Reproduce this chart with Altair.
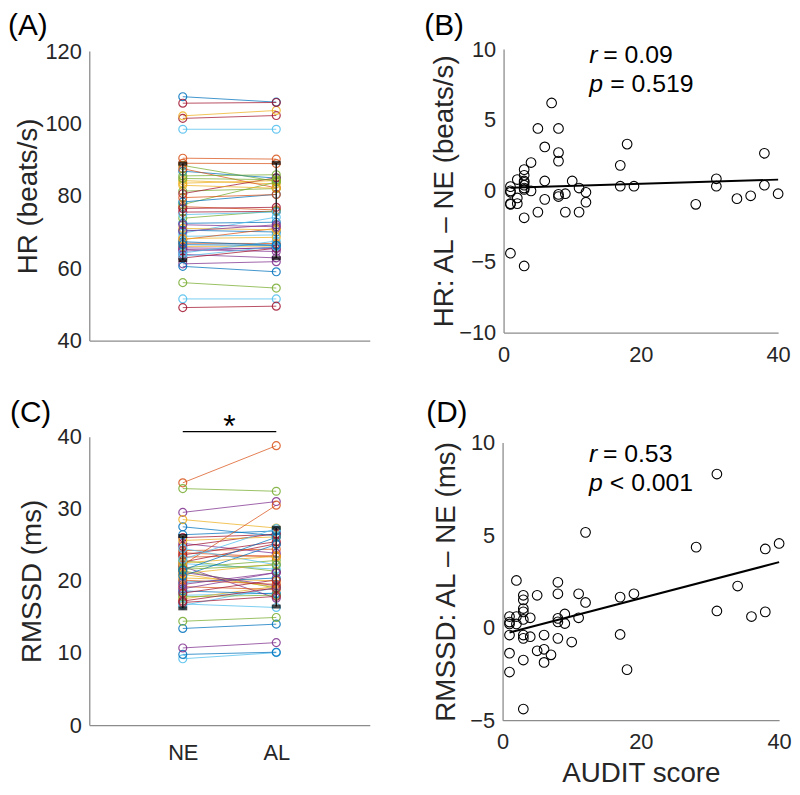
import altair as alt
import pandas as pd

# ---------------- data ----------------
audit = [1, 1, 1, 1, 1, 1, 2, 2, 2, 3, 3, 3, 3, 3, 3, 3, 3, 3, 4, 4, 5, 5, 6, 6, 6,
         7, 8, 8, 8, 8, 8, 9, 9, 10, 11, 11, 12, 12, 17, 17, 18, 19, 28, 31, 31, 34,
         36, 38, 38, 40]
hr_diff = [0.3, -0.1, -0.9, -0.95, -4.4, 0.0, 0.8, -0.5, -0.9, 1.5, 1.1, 0.7, 0.4, 0.2,
           -1.9, -5.3, 0.1, 0.6, 2.0, 0.0, 4.4, -1.5, 3.1, 0.7, -0.6, 6.2, 4.4, 2.7, 2.1,
           -0.25, -0.4, -0.2, -1.5, 0.7, 0.2, -1.5, -0.1, -0.8, 1.8, 0.33, 3.3, 0.33,
           -0.95, 0.85, 0.33, -0.55, -0.35, 2.65, 0.4, -0.2]
rmssd_diff = [0.6, 0.2, -0.4, -1.38, -2.4, 0.3, 2.55, 0.6, 0.2, 1.75, 1.5, 1.03, 0.85,
              0.44, -0.4, -0.58, -1.75, -4.4, 0.53, -0.49, 1.75, -1.25, -0.4, -1.17,
              -1.88, -1.47, 2.45, 1.83, 0.31, -0.58, 0.5, 0.74, 0.22, -0.78, 1.83, 0.53,
              5.15, 1.36, 1.65, -0.37, -2.27, 1.83, 4.35, 8.3, 0.9, 2.25, 0.6, 4.25,
              0.85, 4.55]
hr_ne = [72.4, 66.9, 84.2, 63.8, 88.4, 51.5, 101.4, 70.5, 77.0, 102.1, 64.7, 81.3, 68.8,
         75.5, 86.8, 87.5, 66.0, 61.2, 73.8, 98.4, 80.6, 107.4, 67.9, 83.5, 65.2, 77.6,
         69.7, 62.8, 78.3, 90.4, 71.0, 65.6, 56.0, 74.8, 105.6, 60.5, 89.0, 82.9, 70.2,
         85.5, 64.2, 76.5, 67.3, 79.5, 68.2, 72.0, 84.8, 63.3, 49.1, 66.5]
hr_al = [72.7, 66.8, 83.3, 62.85, 84.0, 51.5, 102.2, 70.0, 76.1, 103.6, 65.8, 82.0, 69.2,
         75.7, 84.9, 82.2, 66.1, 61.8, 75.8, 98.4, 85.0, 105.9, 71.0, 84.2, 64.6, 83.8,
         74.1, 65.5, 80.4, 90.15, 70.6, 65.4, 54.5, 75.5, 105.8, 59.0, 88.9, 82.1, 72.0,
         85.83, 67.5, 76.83, 66.35, 80.35, 68.53, 71.45, 84.45, 65.95, 49.5, 66.3]
rmssd_ne = [13.4, 23.3, 20.4, 25.2, 21.4, 18.0, 22.6, 19.8, 24.2, 17.5, 29.5, 21.8, 9.2,
            26.0, 18.6, 23.9, 20.9, 22.0, 14.4, 16.8, 24.8, 27.5, 19.2, 28.5, 21.2, 22.8,
            16.6, 23.6, 9.8, 20.1, 25.6, 10.7, 17.8, 22.4, 18.3, 26.4, 33.6, 21.0, 19.5,
            32.8, 24.5, 17.2, 20.7, 22.2, 22.5, 18.9, 21.6, 23.0, 17.0, 21.5]
rmssd_al = [14.0, 23.5, 20.0, 23.82, 19.0, 18.3, 25.15, 20.4, 24.4, 19.25, 31.0, 22.83,
            10.05, 26.44, 18.2, 23.32, 19.15, 17.6, 14.93, 16.31, 26.55, 26.25, 18.8,
            27.33, 19.32, 21.33, 19.05, 25.43, 10.11, 19.52, 26.1, 11.44, 18.02, 21.62,
            20.13, 26.93, 38.75, 22.36, 21.15, 32.43, 22.23, 19.03, 25.05, 30.5, 23.4,
            21.15, 22.2, 27.25, 17.85, 26.05]

cond_labels = ["NE", "AL"]
cond_pos = [1, 2]
matlab_colors = ["#0072BD", "#D95319", "#EDB120", "#7E2F8E", "#77AC30", "#4DBEEE", "#A2142F"]

stats_hr = {"r": "= 0.09", "p": "= 0.519"}
stats_rmssd = {"r": "= 0.53", "p": "< 0.001"}

FONT = "Liberation Sans"
TXT = "#262626"
AXC = "#8c8c8c"

n = len(audit)
long = pd.DataFrame({
    "subj": list(range(n)) * 2,
    "pos": [cond_pos[0]] * n + [cond_pos[1]] * n,
    "hr": hr_ne + hr_al,
    "rmssd": rmssd_ne + rmssd_al,
})
scat = pd.DataFrame({"audit": audit, "hr_diff": hr_diff, "rmssd_diff": rmssd_diff})


def label_layer(text, dx, dy):
    return alt.Chart(pd.DataFrame({"t": [text]})).mark_text(
        align="left", baseline="top", fontSize=30, font=FONT, color="black"
    ).encode(x=alt.value(dx), y=alt.value(dy), text="t:N")


def paired(field, ydom, yvals, ytitle, title_x, show_labels, label, ldx, ldy, w, h, sig=False):
    xsc = alt.Scale(domain=[0, 3], nice=False, zero=False)
    ysc = alt.Scale(domain=ydom, nice=False, zero=False)
    expr = "datum.value == 1 ? '%s' : '%s'" % (cond_labels[0], cond_labels[1])
    xaxis = alt.Axis(values=cond_pos, labelExpr=expr, labels=show_labels, ticks=False,
                     title=None, labelPadding=18, labelFontSize=22)
    yaxis = alt.Axis(values=yvals, title=ytitle, titleX=title_x, titleY=h / 2,
                     labelPadding=8)
    color = alt.Color("subj:N", scale=alt.Scale(range=matlab_colors), legend=None)
    base = alt.Chart(long)
    lines = base.mark_line(strokeWidth=1, opacity=0.75).encode(
        x=alt.X("pos:Q", scale=xsc, axis=xaxis),
        y=alt.Y(f"{field}:Q", scale=ysc, axis=yaxis),
        color=color, detail="subj:N")
    pts = base.mark_point(filled=False, size=64, strokeWidth=1.2, opacity=0.85).encode(
        x=alt.X("pos:Q", scale=xsc), y=alt.Y(f"{field}:Q", scale=ysc), color=color)
    m, s, lo, hi = f"m_{field}", f"s_{field}", f"lo_{field}", f"hi_{field}"
    agg = base.transform_aggregate(
        **{m: f"mean({field})", s: f"stdev({field})"}, groupby=["pos"]
    ).transform_calculate(**{lo: f"datum.{m} - datum.{s}", hi: f"datum.{m} + datum.{s}"})
    bar = agg.mark_rule(color="#222", strokeWidth=1.5).encode(
        x=alt.X("pos:Q", scale=xsc), y=alt.Y(f"{lo}:Q", scale=ysc), y2=f"{hi}:Q")
    cap_lo = agg.mark_tick(color="black", orient="horizontal", size=9, thickness=4).encode(
        x=alt.X("pos:Q", scale=xsc), y=alt.Y(f"{lo}:Q", scale=ysc))
    cap_hi = agg.mark_tick(color="black", orient="horizontal", size=9, thickness=4).encode(
        x=alt.X("pos:Q", scale=xsc), y=alt.Y(f"{hi}:Q", scale=ysc))
    layers = [lines, pts, bar, cap_lo, cap_hi, label_layer(label, ldx, ldy)]
    if sig:
        sig_df = pd.DataFrame({"x1": [1], "x2": [2], "y": [40.7], "xm": [1.5], "ys": [40.0], "t": ["*"]})
        sb = alt.Chart(sig_df)
        layers.append(sb.mark_rule(color="black", strokeWidth=1.5).encode(
            x=alt.X("x1:Q", scale=xsc), x2="x2:Q", y=alt.Y("y:Q", scale=ysc)))
        layers.append(sb.mark_text(fontSize=32, font=FONT, baseline="alphabetic",
                                   color="black").encode(
            x=alt.X("xm:Q", scale=xsc), y=alt.Y("ys:Q", scale=ysc), text="t:N"))
    return alt.layer(*layers).properties(width=w, height=h)


def scatter(field, ydom, yvals, ytitle, title_x, xtitle, stats, ann_y, label, ldx, ldy,
            w, h, yrange):
    xsc = alt.Scale(domain=[0, 40], nice=False, zero=False)
    ysc = alt.Scale(domain=ydom, nice=False, zero=False, range=yrange)
    xaxis_kw = dict(values=[0, 20, 40], labelPadding=12)
    if xtitle:
        xaxis = alt.Axis(title=xtitle, titleY=54, titleBaseline="middle", **xaxis_kw)
    else:
        xaxis = alt.Axis(title=None, **xaxis_kw)
    yaxis = alt.Axis(values=yvals, title=ytitle, titleX=title_x,
                     titleY=(yrange[0] + yrange[1]) / 2, labelPadding=8)
    base = alt.Chart(scat)
    pts = base.mark_point(filled=False, color="black", size=95, strokeWidth=1.1,
                          opacity=1).encode(
        x=alt.X("audit:Q", scale=xsc, axis=xaxis),
        y=alt.Y(f"{field}:Q", scale=ysc, axis=yaxis))
    reg = base.transform_regression("audit", field).mark_line(
        color="black", strokeWidth=2).encode(
        x=alt.X("audit:Q", scale=xsc), y=alt.Y(f"{field}:Q", scale=ysc))
    ann = pd.DataFrame({"x": [12.5, 12.5], "y": ann_y,
                        "sym": ["r", "p"],
                        "rest": [stats["r"], stats["p"]]})
    a = alt.Chart(ann)
    t_sym = a.mark_text(align="left", baseline="middle", fontSize=25, font=FONT,
                        fontStyle="italic", color="black").encode(
        x=alt.X("x:Q", scale=xsc), y=alt.Y("y:Q", scale=ysc), text="sym:N")
    t_r = a.transform_filter("datum.sym == 'r'").mark_text(
        align="left", baseline="middle", fontSize=25, font=FONT, color="black", dx=14).encode(
        x=alt.X("x:Q", scale=xsc), y=alt.Y("y:Q", scale=ysc), text="rest:N")
    t_p = a.transform_filter("datum.sym == 'p'").mark_text(
        align="left", baseline="middle", fontSize=25, font=FONT, color="black", dx=21).encode(
        x=alt.X("x:Q", scale=xsc), y=alt.Y("y:Q", scale=ysc), text="rest:N")
    return alt.layer(pts, reg, t_sym, t_r, t_p, label_layer(label, ldx, ldy)).properties(
        width=w, height=h)


pA = paired("hr", [40, 120], [40, 60, 80, 100, 120], "HR (beats/s)", -47, False,
            "(A)", -82, -40, 283, 292)
pB = scatter("hr_diff", [-10, 10], [-10, -5, 0, 5, 10], "HR: AL \u2013 NE (beats/s)", -46,
             None, stats_hr, [9.55, 7.5], "(B)", -80, -40, 277, 284, [284, -2])
pC = paired("rmssd", [0, 40], [0, 10, 20, 30, 40], "RMSSD (ms)", -43, True,
            "(C)", -80, -39, 283, 291, sig=True)
pD = scatter("rmssd_diff", [-5, 10], [-5, 0, 5, 10], "RMSSD: AL \u2013 NE (ms)", -43,
             "AUDIT score", stats_rmssd, [9.4, 7.8], "(D)", -77, -39, 279, 286, [286, 6])

row1 = alt.hconcat(pA, pB, spacing=55)
row2 = alt.hconcat(pC, pD, spacing=57)

chart = alt.vconcat(row1, row2, spacing=33).properties(padding=0).configure(
    font=FONT
).configure_view(stroke=None).configure_axis(
    grid=False, ticks=False, domainColor=AXC, domainWidth=1.3,
    labelFont=FONT, labelFontSize=22, labelColor=TXT, labelFlush=False,
    titleFont=FONT, titleFontSize=28, titleFontWeight="normal", titleColor=TXT,
)

chart.save("out.html", embed_options={"renderer": "svg", "actions": False})
